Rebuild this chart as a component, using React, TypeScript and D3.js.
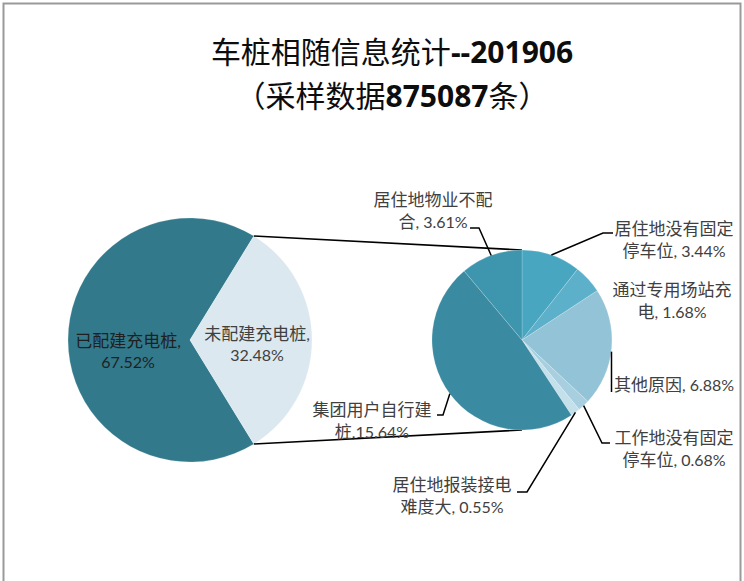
import React from "react";
import * as d3 from "d3";

// ---------- data ----------
const titleLine1 = ["车桩相随信息统计", "--201906"];
const titleLine2 = ["（采样数据", "875087", "条）"];

const mainCategories = ["已配建充电桩", "未配建充电桩"];
const mainValues = [67.52, 32.48];

const subCategories = [
  "居住地没有固定停车位",
  "通过专用场站充电",
  "其他原因",
  "工作地没有固定停车位",
  "居住地报装接电难度大",
  "集团用户自行建桩",
  "居住地物业不配合",
];
const subValues = [3.44, 1.68, 6.88, 0.68, 0.55, 15.64, 3.61];
const subSeparators = [", ", ", ", ", ", ", ", ", ", ",", ", "];
const subSplitAt = [7, 7, 0, 7, 7, 7, 7];

// ---------- styles / layout ----------
const W = 744;
const H = 581;
const mainColors = ["#32798b", "#dbe8ef"];
const subColors = ["#48a6c1", "#5cb0c9", "#93c3d6", "#a8cfdf", "#c4e0eb", "#3a8aa1", "#3e96ae"];

const main = { cx: 190, cy: 340, r: 122 };
const sub = { cx: 522, cy: 340, r: 90 };

const subLabelLayout = [
  { tx: 152, ty: -111, leader: [[81, -107], [91, -107]] },
  { tx: 150, ty: -50, leader: [] },
  { tx: 152, ty: 45, leader: [[89.5, 52]], vertical: true },
  { tx: 152, ty: 98, leader: [[80, 103], [88, 103]] },
  { tx: -70, ty: 145, leader: [[5, 152], [-5, 152]] },
  { tx: -150, ty: 70, leader: [[-79, 75], [-85, 75]] },
  { tx: -89, ty: -140, leader: [[-43, -112], [-52, -112]] },
];
const mainLabelLayout = [
  { tx: -62, ty: 2 },
  { tx: 67, ty: -5 },
];

const latinFont = "Lato, 'Noto Sans CJK SC', sans-serif";
const cjkFont = "'Noto Sans CJK SC', sans-serif";
const cjkRe = /([\u3000-\u303f\u4e00-\u9fff\uff00-\uffef]+)/;

function Runs({ s, cjkSize, latinSize }: { s: string; cjkSize: number; latinSize: number }) {
  const parts = s.split(cjkRe).filter((p) => p.length);
  return (
    <>
      {parts.map((p, k) =>
        cjkRe.test(p) ? (
          <tspan key={k} fontFamily={cjkFont} fontSize={cjkSize}>
            {p}
          </tspan>
        ) : (
          <tspan key={k} fontFamily={latinFont} fontSize={latinSize}>
            {p}
          </tspan>
        )
      )}
    </>
  );
}

export default function App() {
  const mainTotal = d3.sum(mainValues);
  const lightShare = mainValues[1] / mainTotal;
  const mainStart = Math.PI / 2 + Math.PI * lightShare;
  const mainPie = d3
    .pie<number>()
    .sort(null)
    .startAngle(mainStart)
    .endAngle(mainStart + 2 * Math.PI)(mainValues);
  const mainArc = d3.arc<d3.PieArcDatum<number>>().innerRadius(0).outerRadius(main.r);

  const subPie = d3.pie<number>().sort(null).startAngle(0).endAngle(2 * Math.PI)(subValues);
  const subArc = d3.arc<d3.PieArcDatum<number>>().innerRadius(0).outerRadius(sub.r);
  const edgeArc = d3.arc<d3.PieArcDatum<number>>().innerRadius(sub.r).outerRadius(sub.r);

  const light = mainPie[1];
  const pt = (a: number, r: number, c: { cx: number; cy: number }) => [
    c.cx + r * Math.sin(a),
    c.cy - r * Math.cos(a),
  ];
  const topL = pt(light.startAngle, main.r, main);
  const botL = pt(light.endAngle, main.r, main);
  const topR = [sub.cx, sub.cy - sub.r];
  const botR = [sub.cx, sub.cy + sub.r];

  const lh = 22.5;
  const cfs = 17;
  const lfs = 16;

  return (
    <svg
      width={W}
      height={H}
      style={{ position: "absolute", left: 0, top: 0, background: "#fff" }}
    >
      <rect x={0} y={0} width={W} height={H} fill="#fff" />
      <rect x={3.5} y={3.5} width={737} height={H + 20} fill="none" stroke="#9a9a9a" strokeWidth={2} />

      {/* title */}
      <text x={392} y={63} textAnchor="middle" fontSize={30} fill="#0d0d0d">
        <tspan fontFamily={cjkFont}>{titleLine1[0]}</tspan>
        <tspan fontFamily="'Open Sans', sans-serif" fontWeight="bold">{titleLine1[1]}</tspan>
      </text>
      <text x={392} y={107} textAnchor="middle" fontSize={30} fill="#0d0d0d">
        <tspan fontFamily={cjkFont}>{titleLine2[0]}</tspan>
        <tspan fontFamily="'Open Sans', sans-serif" fontWeight="bold">{titleLine2[1]}</tspan>
        <tspan fontFamily={cjkFont}>{titleLine2[2]}</tspan>
      </text>

      {/* main pie */}
      <g transform={`translate(${main.cx},${main.cy})`}>
        {mainPie.map((d, i) => (
          <path key={i} d={mainArc(d) || ""} fill={mainColors[i]} stroke="#fff" strokeWidth={0.5} strokeOpacity={0.4} />
        ))}
        {mainPie.map((d, i) => {
          const full = `${mainCategories[i]}, ${mainValues[i].toFixed(2)}%`;
          const lines = [full.slice(0, 7), full.slice(7).trim()];
          const L = mainLabelLayout[i];
          return (
            <text key={i} textAnchor="middle" fill={i === 0 ? "#1f1f1f" : "#404040"}>
              {lines.map((s, j) => (
                <tspan key={j} x={L.tx} y={L.ty + j * 21 + 5}>
                  <Runs s={s} cjkSize={cfs} latinSize={lfs} />
                </tspan>
              ))}
            </text>
          );
        })}
      </g>

      {/* connector lines */}
      <line x1={topL[0]} y1={topL[1]} x2={topR[0]} y2={topR[1]} stroke="#000" strokeWidth={1.5} />
      <line x1={botL[0]} y1={botL[1]} x2={botR[0]} y2={botR[1]} stroke="#000" strokeWidth={1.5} />

      {/* sub pie */}
      <g transform={`translate(${sub.cx},${sub.cy})`}>
        {subPie.map((d, i) => (
          <path key={i} d={subArc(d) || ""} fill={subColors[i]} stroke="#fff" strokeWidth={0.6} strokeOpacity={0.3} />
        ))}
        {subPie.map((d, i) => {
          const L = subLabelLayout[i];
          if (!L.leader.length) return null;
          const [ax, ay] = edgeArc.centroid(d);
          const pts: number[][] = L.vertical
            ? [[L.leader[0][0], ay + 4], L.leader[0]]
            : [[ax, ay], ...L.leader];
          return (
            <polyline
              key={i}
              points={pts.map((p) => p.join(",")).join(" ")}
              fill="none"
              stroke="#000"
              strokeWidth={1.5}
            />
          );
        })}
        {subPie.map((d, i) => {
          const full = `${subCategories[i]}${subSeparators[i]}${subValues[i].toFixed(2)}%`;
          const k = subSplitAt[i];
          const lines = k ? [full.slice(0, k), full.slice(k)] : [full];
          const L = subLabelLayout[i];
          return (
            <text key={i} textAnchor="middle" fill="#404040">
              {lines.map((s, j) => (
                <tspan key={j} x={L.tx} y={L.ty + j * lh + 5.5}>
                  <Runs s={s} cjkSize={cfs} latinSize={lfs} />
                </tspan>
              ))}
            </text>
          );
        })}
      </g>
    </svg>
  );
}
